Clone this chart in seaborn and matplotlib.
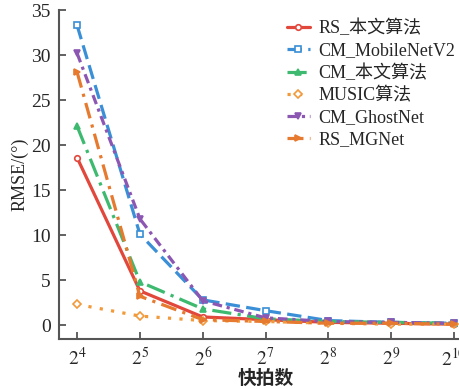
import matplotlib
matplotlib.use("Agg")
import matplotlib.pyplot as plt
import seaborn as sns
import pandas as pd

# Snapshot exponents (number of snapshots = 2**k)
exponents = [4, 5, 6, 7, 8, 9, 10]
tick_labels = [f"$2^{{{k}}}$" for k in exponents]

rs_ours = [18.6, 3.8, 0.9, 0.6, 0.3, 0.2, 0.1]
cm_mobilenetv2 = [33.3, 10.1, 2.8, 1.6, 0.5, 0.3, 0.2]
cm_ours = [22.1, 4.8, 1.8, 0.7, 0.4, 0.3, 0.2]
music = [2.3, 1.0, 0.5, 0.4, 0.2, 0.1, 0.1]
cm_ghostnet = [30.2, 11.8, 2.7, 0.8, 0.4, 0.3, 0.2]
rs_mgnet = [28.1, 3.2, 0.6, 0.4, 0.2, 0.2, 0.1]

series_names = ["RS_本文算法", "CM_MobileNetV2", "CM_本文算法",
                "MUSIC算法", "CM_GhostNet", "RS_MGNet"]
series_values = [rs_ours, cm_mobilenetv2, cm_ours, music, cm_ghostnet, rs_mgnet]

styles = {
    "RS_本文算法":    dict(color="#e2473c", ls="-",                  marker="o", mfc="white"),
    "CM_MobileNetV2": dict(color="#3a8fd6", ls=(0, (4.5, 2)),        marker="s", mfc="white"),
    "CM_本文算法":    dict(color="#3dba6f", ls=(0, (6, 2, 1, 2)),    marker="^", mfc=None),
    "MUSIC算法":      dict(color="#f29a3a", ls=(0, (1, 2.6)),        marker="D", mfc="white"),
    "CM_GhostNet":    dict(color="#8c57b3", ls=(0, (3, 1.5, 1, 1.5)), marker="v", mfc=None),
    "RS_MGNet":       dict(color="#e67a2e", ls=(0, (5, 2, 1, 2)),    marker=">", mfc=None),
}

df = pd.DataFrame({
    "k": exponents * len(series_names),
    "rmse": [v for vals in series_values for v in vals],
    "method": [n for n in series_names for _ in exponents],
})

sns.set_style("ticks")
plt.rcParams["font.family"] = ["Liberation Serif", "Noto Sans CJK SC"]
plt.rcParams["mathtext.fontset"] = "stix"

fig = plt.figure(figsize=(4.6, 3.89), dpi=100)
ax = fig.add_axes([0.128, 0.1285, 0.9, 0.8455])

for name in series_names:
    st = styles[name]
    sub = df[df["method"] == name]
    sns.lineplot(data=sub, x="k", y="rmse", ax=ax, color=st["color"],
                 linewidth=2.3, label=name)
    line = ax.get_lines()[-1]
    line.set_linestyle(st["ls"])
    line.set_marker(st["marker"])
    line.set_markersize(4)
    line.set_markeredgewidth(1.2)
    line.set_markerfacecolor(st["mfc"] if st["mfc"] else st["color"])
    line.set_markeredgecolor(st["color"])

ax.set_xlim(3.71, 10.3)
ax.set_ylim(-1.55, 35)
ax.set_xticks(exponents)
ax.set_xticklabels(tick_labels, fontsize=14)
ax.set_yticks([0, 5, 10, 15, 20, 25, 30, 35])
ax.tick_params(axis="y", labelsize=14)
ax.tick_params(direction="in", length=5, width=1.3, color="#555555", pad=6)

for s in ["top", "right"]:
    ax.spines[s].set_visible(False)
for s in ["left", "bottom"]:
    ax.spines[s].set_color("#555555")
    ax.spines[s].set_linewidth(1.5)

ax.set_xlabel("快拍数", fontsize=13.5, fontweight="bold", labelpad=0)
ax.set_ylabel("RMSE/(°)", fontsize=13, labelpad=2)

leg = ax.legend(loc="upper left", bbox_to_anchor=(226 / 411, 0.97),
                bbox_transform=ax.transAxes, frameon=False, fontsize=13,
                handlelength=1.3, handletextpad=0.45, labelspacing=0.28,
                borderaxespad=0, borderpad=0)

fig.savefig("out.png", dpi=100)
